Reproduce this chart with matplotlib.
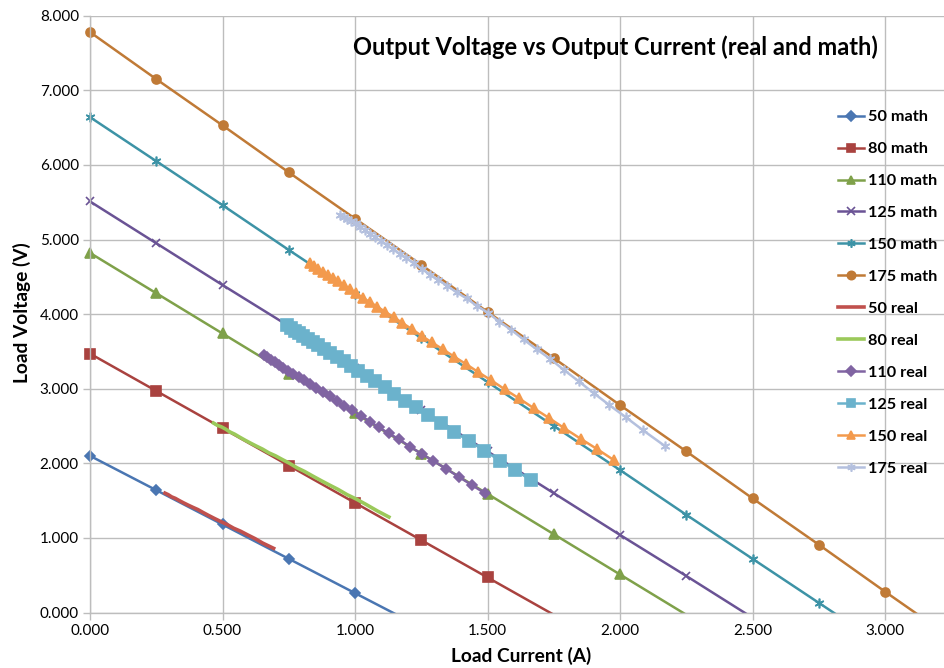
import matplotlib
matplotlib.use("Agg")
import matplotlib.pyplot as plt
from matplotlib.ticker import FormatStrFormatter
from matplotlib.transforms import Bbox, TransformedBbox

plt.rcParams['font.family'] = ['Lato', 'DejaVu Sans']

# ---- math series (x step 0.25 A) ----
math_x = [0.0, 0.25, 0.5, 0.75, 1.0, 1.25, 1.5, 1.75, 2.0, 2.25, 2.5, 2.75, 3.0, 3.25]
m50 = [2.10, 1.64, 1.18, 0.72, 0.26, -0.20]
m80 = [3.47, 2.97, 2.47, 1.97, 1.47, 0.97, 0.47, -0.03]
m110 = [4.82, 4.28, 3.74, 3.20, 2.67, 2.13, 1.59, 1.05, 0.51, -0.03]
m125 = [5.51, 4.95, 4.39, 3.84, 3.28, 2.72, 2.16, 1.60, 1.04, 0.49, -0.07]
m150 = [6.64, 6.05, 5.46, 4.86, 4.27, 3.68, 3.09, 2.50, 1.91, 1.31, 0.72, 0.13, -0.46]
m175 = [7.78, 7.15, 6.53, 5.90, 5.28, 4.66, 4.03, 3.41, 2.78, 2.16, 1.53, 0.91, 0.28, -0.34]

# ---- real (measured) series ----
r50_x = [0.283, 0.295, 0.308, 0.322, 0.337, 0.353, 0.370, 0.388, 0.407, 0.427,
         0.448, 0.470, 0.493, 0.517, 0.542, 0.568, 0.595, 0.623, 0.652, 0.693]
r50_y = [1.60, 1.58, 1.55, 1.53, 1.50, 1.47, 1.44, 1.41, 1.38, 1.34,
         1.30, 1.26, 1.22, 1.18, 1.13, 1.09, 1.04, 0.99, 0.93, 0.86]

r80_x = [0.466, 0.480, 0.495, 0.511, 0.528, 0.546, 0.565, 0.585, 0.606, 0.628,
         0.651, 0.675, 0.700, 0.726, 0.753, 0.781, 0.810, 0.840, 0.871, 0.903,
         0.936, 0.970, 1.005, 1.041, 1.085, 1.128]
r80_y = [2.54, 2.51, 2.49, 2.46, 2.42, 2.39, 2.35, 2.31, 2.27, 2.23,
         2.19, 2.14, 2.10, 2.05, 2.00, 1.94, 1.89, 1.83, 1.77, 1.71,
         1.65, 1.58, 1.52, 1.45, 1.36, 1.28]

r110_x = [0.655, 0.668, 0.682, 0.697, 0.713, 0.730, 0.748, 0.767, 0.787, 0.808,
          0.830, 0.853, 0.878, 0.904, 0.931, 0.960, 0.990, 1.022, 1.056, 1.091,
          1.128, 1.167, 1.208, 1.251, 1.296, 1.343, 1.391, 1.440, 1.490]
r110_y = [3.45, 3.42, 3.39, 3.36, 3.32, 3.28, 3.24, 3.20, 3.16, 3.11,
          3.06, 3.01, 2.96, 2.90, 2.84, 2.77, 2.71, 2.64, 2.56, 2.48,
          2.40, 2.32, 2.22, 2.13, 2.03, 1.93, 1.82, 1.71, 1.60]

r125_x = [0.743, 0.757, 0.772, 0.788, 0.805, 0.823, 0.842, 0.862, 0.884, 0.907,
          0.931, 0.957, 0.984, 1.013, 1.044, 1.077, 1.112, 1.149, 1.189, 1.231,
          1.276, 1.324, 1.375, 1.430, 1.488, 1.549, 1.605, 1.665]
r125_y = [3.85, 3.82, 3.78, 3.75, 3.71, 3.67, 3.63, 3.58, 3.53, 3.48,
          3.43, 3.37, 3.31, 3.24, 3.17, 3.10, 3.02, 2.93, 2.84, 2.75,
          2.65, 2.54, 2.42, 2.30, 2.17, 2.03, 1.91, 1.77]

r150_x = [0.831, 0.846, 0.862, 0.879, 0.897, 0.916, 0.936, 0.957, 0.980, 1.004,
          1.029, 1.056, 1.084, 1.114, 1.146, 1.179, 1.214, 1.251, 1.290, 1.331,
          1.374, 1.419, 1.466, 1.515, 1.566, 1.619, 1.674, 1.731, 1.790, 1.851,
          1.914, 1.978]
r150_y = [4.68, 4.65, 4.61, 4.57, 4.53, 4.48, 4.44, 4.39, 4.34, 4.28,
          4.22, 4.16, 4.10, 4.03, 3.96, 3.88, 3.80, 3.71, 3.62, 3.53,
          3.43, 3.33, 3.22, 3.11, 2.99, 2.87, 2.74, 2.61, 2.47, 2.33,
          2.19, 2.04]

r175_x = [0.944, 0.957, 0.971, 0.986, 1.002, 1.019, 1.037, 1.056, 1.076, 1.097,
          1.119, 1.143, 1.168, 1.194, 1.222, 1.251, 1.282, 1.314, 1.348, 1.384,
          1.421, 1.460, 1.501, 1.544, 1.589, 1.636, 1.685, 1.736, 1.789, 1.844,
          1.901, 1.960, 2.021, 2.088, 2.170]
r175_y = [5.33, 5.30, 5.28, 5.25, 5.22, 5.17, 5.13, 5.08, 5.03, 4.98,
          4.93, 4.87, 4.81, 4.75, 4.68, 4.61, 4.53, 4.46, 4.38, 4.29,
          4.21, 4.11, 4.02, 3.90, 3.79, 3.66, 3.53, 3.40, 3.25, 3.10,
          2.94, 2.78, 2.62, 2.44, 2.23]

x_ticks = [0.0, 0.5, 1.0, 1.5, 2.0, 2.5, 3.0]
y_ticks = [0, 1, 2, 3, 4, 5, 6, 7, 8]

W, H = 944, 668
fig = plt.figure(figsize=(W / 100, H / 100), dpi=100)
x0_px, x_scale = 90.0, 265.0
x_max = 3.5
ax = fig.add_axes([x0_px / W, (H - 612.5) / H, x_max * x_scale / W, (612.5 - 15.7) / H])
ax.set_xlim(0, x_max)
ax.set_ylim(0, 8)

# clip at the y=0 floor but let markers at x=0 / y=8 show whole
clip = TransformedBbox(Bbox([[-0.2, 0.0], [x_max, 8.3]]), ax.transData)

lw = 1.8
series = [
    (math_x[:len(m50)], m50, '50 math', '#4A76B2', 'D', 5.0, {}),
    (math_x[:len(m80)], m80, '80 math', '#A9423F', 's', 6.5, {}),
    (math_x[:len(m110)], m110, '110 math', '#7FA14A', '^', 6.5, {}),
    (math_x[:len(m125)], m125, '125 math', '#6A5395', 'x', 6.0, {}),
    (math_x[:len(m150)], m150, '150 math', '#3D93A6', (6, 2, 0), 7.0, {}),
    (math_x[:len(m175)], m175, '175 math', '#C07A36', 'o', 6.5, {}),
    (r50_x, r50_y, '50 real', '#C0504D', None, 0, {'lw': 2.6}),
    (r80_x, r80_y, '80 real', '#9BC95A', None, 0, {'lw': 2.6}),
    (r110_x, r110_y, '110 real', '#8064A2', 'D', 5.5, {}),
    (r125_x, r125_y, '125 real', '#6BB2CC', 's', 8.0, {}),
    (r150_x, r150_y, '150 real', '#F39A4D', '^', 7.5, {}),
    (r175_x, r175_y, '175 real', '#B4C0DE', (6, 2, 0), 7.0, {}),
]

for xs, ys, lab, col, mk, ms, extra in series:
    kw = dict(color=col, lw=extra.get('lw', lw), label=lab)
    if mk is not None:
        visible = [i for i, v in enumerate(ys) if v >= 0]
        kw.update(marker=mk, markersize=ms, markerfacecolor=col, markeredgecolor=col,
                  markeredgewidth=1.2, markevery=visible)
    line, = ax.plot(xs, ys, **kw)
    line.set_clip_box(clip)

ax.set_xticks(x_ticks)
ax.set_yticks(y_ticks)
ax.xaxis.set_major_formatter(FormatStrFormatter('%.3f'))
ax.yaxis.set_major_formatter(FormatStrFormatter('%.3f'))
ax.grid(True, color='#BDBDBD', lw=1.0)
ax.set_axisbelow(True)
for s in ['top', 'right']:
    ax.spines[s].set_visible(False)
for s in ['left', 'bottom']:
    ax.spines[s].set_color('#BDBDBD')
    ax.spines[s].set_linewidth(1.0)
ax.tick_params(axis='both', colors='#BDBDBD', length=5, width=1.0, labelsize=11,
               labelcolor='black', pad=3)

fig.text(22 / W, 1 - 313 / H, 'Load Voltage (V)', rotation=90, ha='center', va='center',
         fontsize=13.8, fontweight='bold')
fig.text(521 / W, 1 - 656 / H, 'Load Current (A)', ha='center', va='center',
         fontsize=13.8, fontweight='bold')
fig.text(615 / W, 1 - 47 / H, 'Output Voltage vs Output Current (real and math)',
         ha='center', va='center', fontsize=17, fontweight='bold')

leg = fig.legend(loc='upper left', bbox_to_anchor=(838 / W, 1 - 110 / H),
                 frameon=False, borderpad=0, borderaxespad=0,
                 handlelength=1.6, handletextpad=0.22, labelspacing=1.08,
                 prop={'weight': 'bold', 'size': 11.7})
for h in leg.legend_handles:
    try:
        h.set_markersize(min(h.get_markersize(), 6))
    except Exception:
        pass

fig.savefig('out.png', dpi=100)
